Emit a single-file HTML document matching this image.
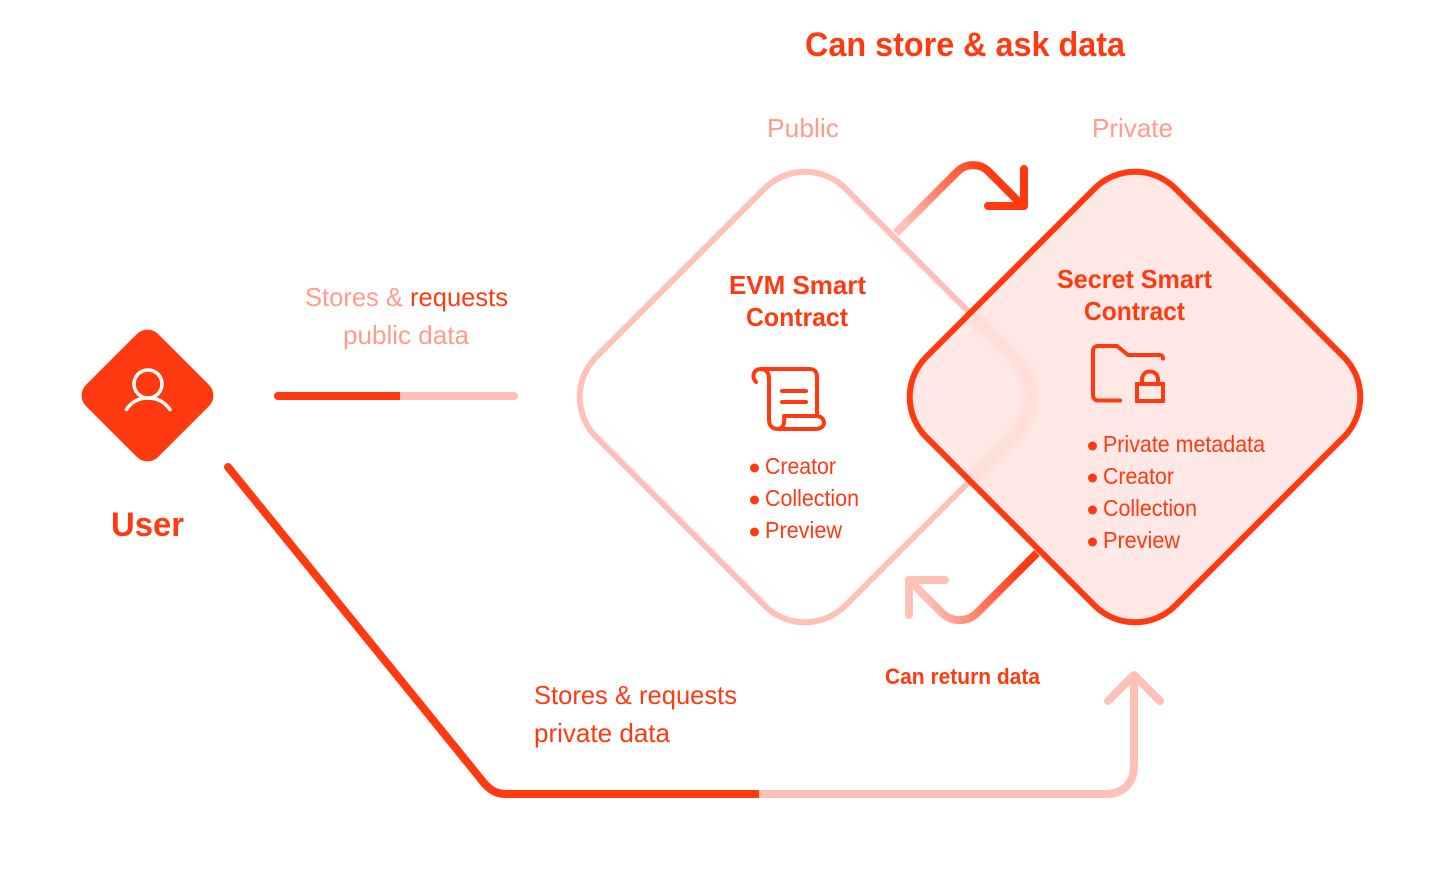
<!DOCTYPE html>
<html><head><meta charset="utf-8">
<style>
html,body{margin:0;padding:0;background:#fff}
svg{display:block}
text{font-family:"Liberation Sans",sans-serif;fill:#FF3A11}
.b{font-weight:bold}
.l{fill:#FF9C8C}
</style></head>
<body>
<svg width="1434" height="884" viewBox="0 0 1434 884" xmlns="http://www.w3.org/2000/svg">
<defs>
<linearGradient id="g1" gradientUnits="userSpaceOnUse" x1="905" y1="225" x2="990" y2="170"><stop offset="0" stop-color="#FFC0B6"/><stop offset="1" stop-color="#FF3A11"/></linearGradient>
<linearGradient id="g2" gradientUnits="userSpaceOnUse" x1="1020" y1="570" x2="925" y2="595"><stop offset="0" stop-color="#FF3A11"/><stop offset="1" stop-color="#FFC0B6"/></linearGradient>
<clipPath id="cr"><rect x="-176" y="-176" width="352" height="352" rx="57" transform="translate(1135 397) rotate(45)"/></clipPath>
<filter id="bl" x="-20%" y="-20%" width="140%" height="140%"><feGaussianBlur stdDeviation="5"/></filter>
</defs>

<text x="805" y="56" class="b" font-size="34" textLength="320" lengthAdjust="spacingAndGlyphs">Can store &amp; ask data</text>
<text x="767" y="137" class="l" font-size="26" textLength="72" lengthAdjust="spacingAndGlyphs">Public</text>
<text x="1092" y="137" class="l" font-size="26" textLength="81" lengthAdjust="spacingAndGlyphs">Private</text>

<!-- user -->
<rect x="-51" y="-51" width="102" height="102" rx="15" transform="translate(147.5 395.500) rotate(45)" fill="#FF3A11"/>
<circle cx="148" cy="384" r="14" fill="none" stroke="#fff" stroke-width="3.500"/>
<path d="M126.500 409.500C132 401 140 398 148 398S164 401 170 409.500" fill="none" stroke="#fff" stroke-width="3.500" stroke-linecap="round"/>
<text x="111" y="536" class="b" font-size="34" textLength="73" lengthAdjust="spacingAndGlyphs">User</text>

<!-- public bar -->
<line x1="278" y1="396" x2="514" y2="396" stroke="#FFC0B6" stroke-width="8" stroke-linecap="round"/>
<path d="M278 396H400" stroke="#FF3A11" stroke-width="8" stroke-linecap="round" fill="none"/>
<rect x="400" y="392" width="10" height="8" fill="#FFC0B6"/>
<text x="305" y="306" font-size="26" textLength="203" lengthAdjust="spacingAndGlyphs"><tspan class="l">Stores &amp; </tspan><tspan>requests</tspan></text>
<text x="343" y="344" class="l" font-size="26" textLength="126" lengthAdjust="spacingAndGlyphs">public data</text>

<!-- left diamond -->
<rect x="-176" y="-176" width="352" height="352" rx="57" transform="translate(805 397) rotate(45)" fill="none" stroke="#FFC0B6" stroke-width="6"/>

<!-- top arrow -->
<path d="M896 233L957.500 171.500A22 22 0 0 1 988.500 171.500L1022 205" fill="none" stroke="url(#g1)" stroke-width="8"/>
<path d="M1024 169V206H988" fill="none" stroke="#FF3A11" stroke-width="8" stroke-linecap="round" stroke-linejoin="round"/>

<!-- bottom arrow -->
<path d="M1037 553L977 613A25 25 0 0 1 942 613L911 582" fill="none" stroke="url(#g2)" stroke-width="8"/>
<path d="M909 615V580H945" fill="none" stroke="#FFC0B6" stroke-width="8" stroke-linecap="round" stroke-linejoin="round"/>

<!-- right diamond -->
<rect x="-176" y="-176" width="352" height="352" rx="57" transform="translate(1135 397) rotate(45)" fill="#FFE8E5"/>
<g clip-path="url(#cr)"><rect x="-176" y="-176" width="352" height="352" rx="57" transform="translate(805 397) rotate(45)" fill="none" stroke="#FFD6CF" stroke-width="8" filter="url(#bl)"/></g>
<rect x="-176" y="-176" width="352" height="352" rx="57" transform="translate(1135 397) rotate(45)" fill="none" stroke="#FF3A11" stroke-width="6"/>

<!-- EVM -->
<text x="729" y="294" class="b" font-size="26" textLength="137" lengthAdjust="spacingAndGlyphs">EVM Smart</text>
<text x="746" y="326" class="b" font-size="26" textLength="102" lengthAdjust="spacingAndGlyphs">Contract</text>
<g fill="none" stroke="#FF3A11" stroke-width="4" stroke-linecap="round" stroke-linejoin="round">
<path d="M756 382C751 376 754 369 761 369H810C815 369 817 373 817 377V414"/>
<path d="M761 369C766 369 769 373 769 378V420C769 426 773 429 778 429H815C821 429 824 426 824 423C824 419 821 416 816 416H784C785 424 783 429 777 429"/>
<path d="M782 391H806M782 402H806"/>
</g>
<g fill="#FF3A11"><circle cx="754.500" cy="468" r="4.500"/><circle cx="754.500" cy="500" r="4.500"/><circle cx="754.500" cy="532" r="4.500"/></g>
<text x="765" y="474" font-size="23" textLength="71" lengthAdjust="spacingAndGlyphs">Creator</text>
<text x="765" y="506" font-size="23" textLength="94" lengthAdjust="spacingAndGlyphs">Collection</text>
<text x="765" y="538" font-size="23" textLength="77" lengthAdjust="spacingAndGlyphs">Preview</text>

<!-- Secret -->
<text x="1057" y="288" class="b" font-size="26" textLength="155" lengthAdjust="spacingAndGlyphs">Secret Smart</text>
<text x="1084" y="320" class="b" font-size="26" textLength="101" lengthAdjust="spacingAndGlyphs">Contract</text>
<g fill="none" stroke="#FF3A11" stroke-width="4" stroke-linecap="round" stroke-linejoin="round">
<path d="M1120 400.500H1098C1095 400.500 1093 398 1093 395V351C1093 348 1095 346 1098 346H1117L1128 355H1159C1162 355 1163 356 1163 358.500"/>
<rect x="1137" y="384" width="26" height="17" stroke-linejoin="miter"/>
<path d="M1142 384V380C1142 375 1145 371.500 1150 371.500S1158 375 1158 380V384" stroke-linecap="butt"/>
</g>
<g fill="#FF3A11"><circle cx="1092.500" cy="446" r="4.500"/><circle cx="1092.500" cy="478" r="4.500"/><circle cx="1092.500" cy="510" r="4.500"/><circle cx="1092.500" cy="542" r="4.500"/></g>
<text x="1103" y="452" font-size="23" textLength="162" lengthAdjust="spacingAndGlyphs">Private metadata</text>
<text x="1103" y="484" font-size="23" textLength="71" lengthAdjust="spacingAndGlyphs">Creator</text>
<text x="1103" y="516" font-size="23" textLength="94" lengthAdjust="spacingAndGlyphs">Collection</text>
<text x="1103" y="548" font-size="23" textLength="77" lengthAdjust="spacingAndGlyphs">Preview</text>

<text x="885" y="684" class="b" font-size="22" textLength="155" lengthAdjust="spacingAndGlyphs">Can return data</text>

<!-- long line -->
<path d="M759 794H1106C1123 794 1134 783 1134 766V675" fill="none" stroke="#FFC0B6" stroke-width="8"/>
<path d="M1108 701L1134 675L1160 701" fill="none" stroke="#FFC0B6" stroke-width="8" stroke-linecap="round" stroke-linejoin="round"/>
<path d="M228 467L480 778C488 789 495 794 506 794H759" fill="none" stroke="#FF3A11" stroke-width="8" stroke-linecap="round"/>
<rect x="759" y="790" width="6" height="8" fill="#FFC0B6"/>
<text x="534" y="704" font-size="26" textLength="203" lengthAdjust="spacingAndGlyphs">Stores &amp; requests</text>
<text x="534" y="742" font-size="26" textLength="136" lengthAdjust="spacingAndGlyphs">private data</text>
</svg>
</body></html>
